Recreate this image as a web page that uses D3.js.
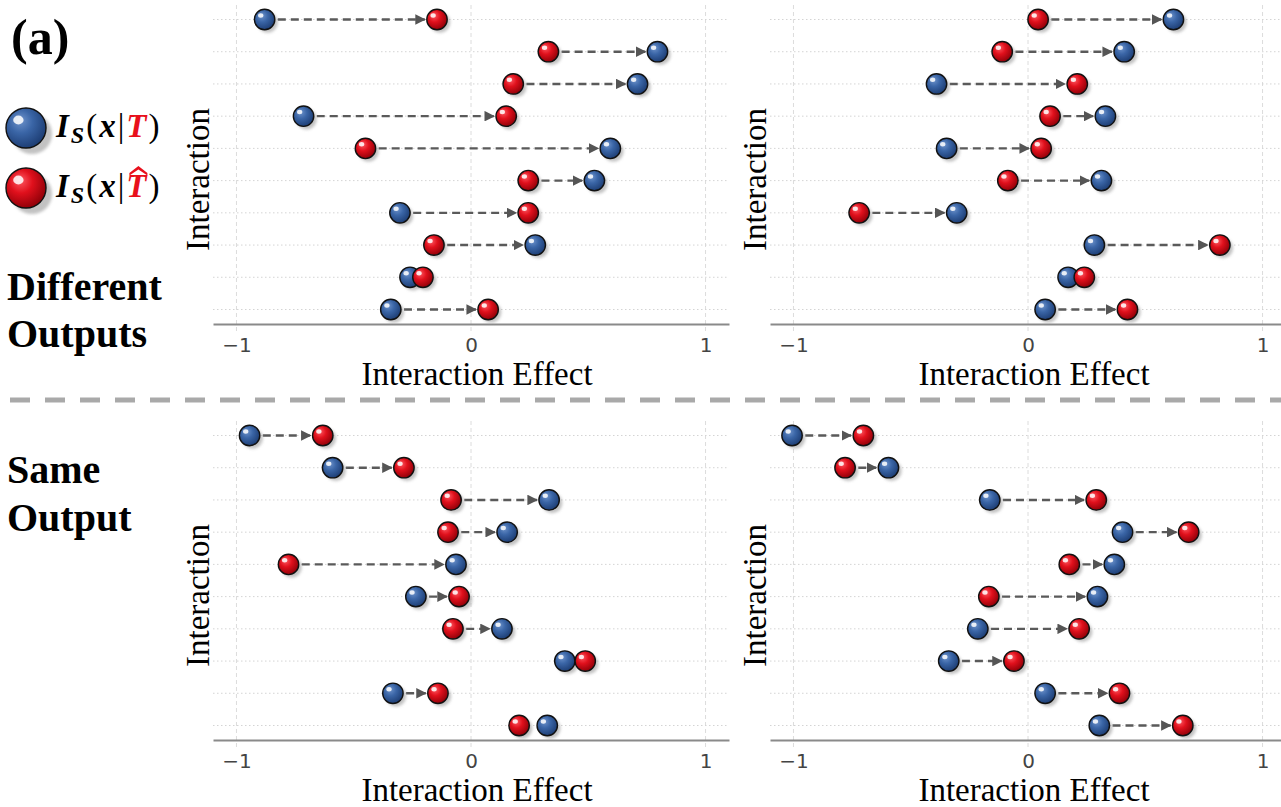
<!DOCTYPE html>
<html>
<head>
<meta charset="utf-8">
<script src="https://cdn.jsdelivr.net/npm/d3@7"></script>
<style>
  html, body { margin: 0; padding: 0; background: #fff; }
  svg { display: block; }
</style>
</head>
<body>
<svg id="chart" width="1281" height="807"></svg>
<script>
// Interaction rows (unlabelled on the axis)
const rowIds = ["r1","r2","r3","r4","r5","r6","r7","r8","r9","r10"];
const xTicks = [-1, 0, 1];

// Different outputs, left panel
const diffLeftT    = [-0.88, 0.795, 0.71, -0.714, 0.594, 0.526, -0.303, 0.274, -0.26, -0.342];
const diffLeftHat  = [-0.145, 0.33, 0.18, 0.15, -0.45, 0.244, 0.244, -0.158, -0.205, 0.073];
// Different outputs, right panel
const diffRightT   = [0.62, 0.41, -0.39, 0.33, -0.347, 0.313, -0.304, 0.283, 0.171, 0.073];
const diffRightHat = [0.043, -0.11, 0.21, 0.094, 0.056, -0.086, -0.72, 0.818, 0.24, 0.424];
// Same output, left panel
const sameLeftT    = [-0.944, -0.59, 0.333, 0.154, -0.064, -0.235, 0.132, 0.40, -0.333, 0.325];
const sameLeftHat  = [-0.632, -0.286, -0.085, -0.098, -0.778, -0.051, -0.077, 0.487, -0.141, 0.205];
// Same output, right panel
const sameRightT   = [-1.006, -0.595, -0.163, 0.403, 0.368, 0.296, -0.214, -0.338, 0.073, 0.304];
const sameRightHat = [-0.702, -0.78, 0.291, 0.685, 0.176, -0.167, 0.218, -0.06, 0.39, 0.66];

const svg = d3.select("#chart");
const defs = svg.append("defs");
const serif = "Liberation Serif, serif";

function ballGradient(id, light, mid, dark) {
  const g = defs.append("radialGradient").attr("id", id)
    .attr("cx", "40%").attr("cy", "38%").attr("r", "65%").attr("fx", "35%").attr("fy", "30%");
  g.append("stop").attr("offset", "0%").attr("stop-color", light);
  g.append("stop").attr("offset", "45%").attr("stop-color", mid);
  g.append("stop").attr("offset", "100%").attr("stop-color", dark);
}
ballGradient("gBlue", "#6f94cc", "#3a65a6", "#1c3c72");
ballGradient("gRed", "#ff5a63", "#e0101c", "#8e0008");

const blur = defs.append("filter").attr("id", "soft").attr("x", "-50%").attr("y", "-50%").attr("width", "200%").attr("height", "200%");
blur.append("feGaussianBlur").attr("stdDeviation", 1.6);

defs.append("marker").attr("id", "arrowHead")
  .attr("viewBox", "0 0 10 10").attr("refX", 9).attr("refY", 5)
  .attr("markerWidth", 4.4).attr("markerHeight", 4.4).attr("markerUnits", "strokeWidth")
  .attr("orient", "auto")
  .append("path").attr("d", "M0,0 L10,5 L0,10 Z").attr("fill", "#555");

function drawBall(g, cx, cy, r, grad) {
  g.append("circle").attr("cx", cx + r * 0.3).attr("cy", cy + r * 0.3).attr("r", r)
    .attr("fill", "#9a9a9a").attr("opacity", 0.6).attr("filter", "url(#soft)");
  g.append("circle").attr("cx", cx).attr("cy", cy).attr("r", r)
    .attr("fill", `url(#${grad})`).attr("stroke", "#111").attr("stroke-width", 1.4);
  g.append("ellipse").attr("cx", cx - r * 0.38).attr("cy", cy - r * 0.4)
    .attr("rx", r * 0.26).attr("ry", r * 0.22).attr("fill", "#fff").attr("opacity", 0.85);
}

const R = 10.2;

function panel(opts) {
  const { x0, x1, yTop, yAxis, tVals, hatVals } = opts;
  const x = d3.scaleLinear().domain([-1.1, 1.1]).range([x0, x1]);
  const y = d3.scalePoint().domain(rowIds).range([yTop, yAxis]).padding(0.45);
  const g = svg.append("g");

  // vertical dashed grid at ticks
  g.selectAll(".vg").data(xTicks).join("line")
    .attr("x1", d => x(d)).attr("x2", d => x(d))
    .attr("y1", yTop).attr("y2", yAxis + 7)
    .attr("stroke", "#dcdcdc").attr("stroke-width", 1).attr("stroke-dasharray", "4 3");
  // horizontal dotted grid per row
  g.selectAll(".hg").data(rowIds).join("line")
    .attr("x1", x0).attr("x2", Math.min(x1, 1281))
    .attr("y1", d => y(d)).attr("y2", d => y(d))
    .attr("stroke", "#d4d4d4").attr("stroke-width", 1).attr("stroke-dasharray", "1.5 2.5");

  // x axis
  const ax = g.append("g").attr("transform", `translate(0,${yAxis})`)
    .call(d3.axisBottom(x).tickValues(xTicks).tickSize(0).tickPadding(14)
      .tickFormat(d => d < 0 ? "\u2212" + Math.abs(d) : String(d)));
  ax.select(".domain").attr("stroke", "#8a8a8a").attr("stroke-width", 2);
  ax.selectAll("text").attr("font-family", "DejaVu Sans, sans-serif").attr("font-size", 20).attr("fill", "#444");

  // axis titles
  g.append("text").attr("x", x(0) + 6).attr("y", yAxis + 61)
    .attr("text-anchor", "middle").attr("font-family", serif).attr("font-size", 33)
    .attr("fill", "#000").text("Interaction Effect");
  g.append("text").attr("transform", `translate(${x0 - 4},${(yTop + yAxis) / 2 + 15}) rotate(-90)`)
    .attr("text-anchor", "middle").attr("font-family", serif).attr("font-size", 33)
    .attr("fill", "#000").text("Interaction");

  // arrows from the lower value toward the higher one
  rowIds.forEach((id, i) => {
    const a = Math.min(tVals[i], hatVals[i]);
    const b = Math.max(tVals[i], hatVals[i]);
    const xa = x(a) + R + 3, xb = x(b) - R - 2;
    if (xb - xa > 4) {
      g.append("line").attr("x1", xa).attr("x2", xb).attr("y1", y(id)).attr("y2", y(id))
        .attr("stroke", "#5a5a5a").attr("stroke-width", 2.4).attr("stroke-dasharray", "8 5")
        .attr("marker-end", "url(#arrowHead)");
    }
  });
  // balls: blue then red
  rowIds.forEach((id, i) => {
    drawBall(g, x(tVals[i]), y(id), R, "gBlue");
    drawBall(g, x(hatVals[i]), y(id), R, "gRed");
  });
}

panel({ x0: 213, x1: 729, yTop: 5, yAxis: 324, tVals: diffLeftT, hatVals: diffLeftHat });
panel({ x0: 770, x1: 1286, yTop: 5, yAxis: 324, tVals: diffRightT, hatVals: diffRightHat });
panel({ x0: 213, x1: 729, yTop: 421, yAxis: 740, tVals: sameLeftT, hatVals: sameLeftHat });
panel({ x0: 770, x1: 1286, yTop: 421, yAxis: 740, tVals: sameRightT, hatVals: sameRightHat });

// separator between the two groups
svg.append("line").attr("x1", 10).attr("x2", 1281).attr("y1", 400).attr("y2", 400)
  .attr("stroke", "#a9a9a9").attr("stroke-width", 5).attr("stroke-dasharray", "20 15");

// left-hand annotations
svg.append("text").attr("x", 11).attr("y", 54).attr("font-family", serif).attr("font-weight", "bold")
  .attr("font-size", 50).text("(a)");
[["Different", 300], ["Outputs", 347], ["Same", 483], ["Output", 531]].forEach(([t, yy]) => {
  svg.append("text").attr("x", 7).attr("y", yy).attr("font-family", serif).attr("font-weight", "bold")
    .attr("font-size", 40).text(t);
});

// legend
function legendEntry(cy, grad, hat) {
  const g = svg.append("g");
  drawBall(g, 26, cy, 20, grad);
  const base = cy + 9;
  const t = g.append("text").attr("x", 56).attr("y", base).attr("font-family", serif)
    .attr("font-size", 33).attr("fill", "#000").attr("letter-spacing", 2);
  t.append("tspan").attr("font-weight", "bold").attr("font-style", "italic").text("I");
  t.append("tspan").attr("font-weight", "bold").attr("font-style", "italic").attr("font-size", 24).attr("dy", 6).text("S");
  t.append("tspan").attr("dy", -6).text("(");
  t.append("tspan").attr("font-weight", "bold").attr("font-style", "italic").text("x");
  t.append("tspan").text("|");
  t.append("tspan").attr("font-weight", "bold").attr("font-style", "italic").attr("fill", "#e8101c").text("T");
  t.append("tspan").text(")");
  if (hat) {
    const s = t.text().indexOf("T");
    const box = t.node().getExtentOfChar(s);
    const cx = box.x + box.width / 2 + 1;
    const top = base - 23;
    g.append("path")
      .attr("d", `M${cx - 9},${top - 1} L${cx},${top - 8} L${cx + 9},${top - 1} L${cx + 9},${top + 1.5} L${cx},${top - 4.5} L${cx - 9},${top + 1.5} Z`)
      .attr("fill", "#e8101c");
  }
}
legendEntry(128, "gBlue", false);
legendEntry(188, "gRed", true);
</script>
</body>
</html>
